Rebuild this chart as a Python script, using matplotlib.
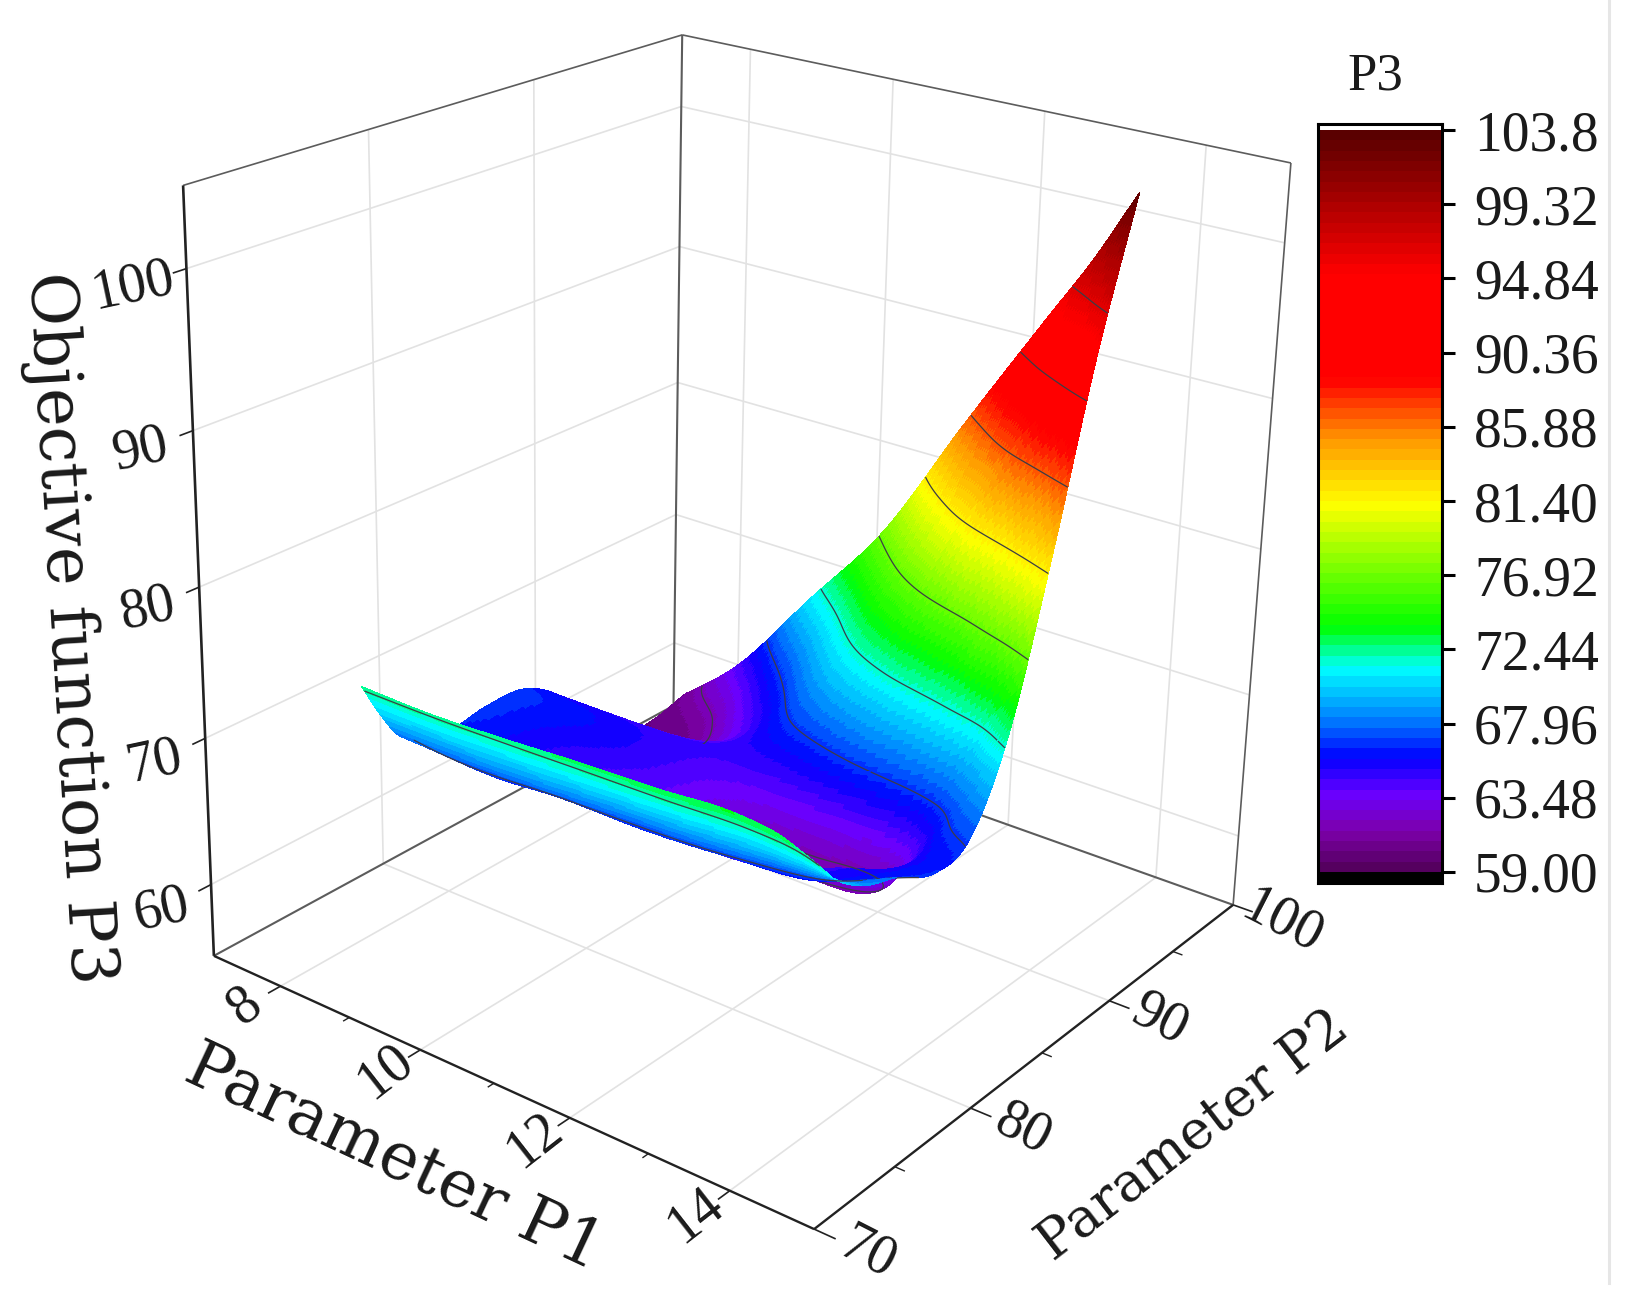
#!/usr/bin/env python3
import numpy as np
import matplotlib
matplotlib.use("Agg")
import matplotlib.pyplot as plt
from matplotlib.colors import LinearSegmentedColormap, Normalize
from matplotlib.lines import Line2D
from mpl_toolkits.mplot3d import proj3d

W, H = 1637, 1305

# surface values (rows = P1, columns = P2)
P1_VALUES = [8, 9, 10, 11, 12, 13, 13.5, 14]
P2_VALUES = [75, 76, 77, 78, 80, 82.5, 85, 87.5, 90, 92.5, 95]
P3_P1_080 = [72.4, 70.0, 68.0, 67.0, 66.4, 66.8, 66.6, 64.5, 60.5, 60.0, 60.0]
P3_P1_090 = [72.3, 70.0, 68.0, 66.6, 65.2, 65.0, 65.8, 64.6, 61.0, 61.5, 64.5]
P3_P1_100 = [72.5, 70.2, 68.2, 66.9, 65.3, 64.0, 64.5, 64.7, 64.0, 66.5, 71.0]
P3_P1_110 = [72.8, 70.5, 68.6, 67.0, 65.0, 63.0, 62.6, 65.2, 68.5, 72.5, 77.5]
P3_P1_120 = [73.0, 70.8, 68.9, 67.3, 65.3, 63.0, 61.7, 66.5, 72.5, 79.5, 86.3]
P3_P1_130 = [73.3, 71.2, 69.4, 68.0, 65.8, 65.0, 62.2, 68.0, 76.5, 87.0, 94.8]
P3_P1_135 = [73.0, 71.0, 69.5, 68.3, 66.8, 65.8, 65.8, 69.5, 79.5, 90.5, 99.0]
P3_P1_140 = [72.0, 70.5, 69.5, 68.8, 68.0, 66.6, 67.3, 72.8, 83.0, 94.5, 103.8]
CONTOUR_LEVELS = [62, 67, 72, 77, 82, 87, 92, 97]
# the sheet has a bite out of its far corner
BITE_P1 = 8.2
BITE_P2 = 89.5

# axes
P1_LIM = (7, 15)
P2_LIM = (70, 100)
P3_LIM = (55, 105)
P1_TICKS = [8, 10, 12, 14]
P1_MINOR = [9, 11, 13]
P2_TICKS = [70, 80, 90, 100]
P2_MINOR = [75, 85, 95]
P3_TICKS = [60, 70, 80, 90, 100]

# colour bar
CBAR_TICKS = [59.0, 63.48, 67.96, 72.44, 76.92, 81.40, 85.88, 90.36, 94.84, 99.32, 103.8]
CBAR_LABELS = ["59.00", "63.48", "67.96", "72.44", "76.92", "81.40", "85.88", "90.36", "94.84", "99.32", "103.8"]
CMAP_VALUES = [59.0, 61.2, 63.48, 65.7, 68.0, 71.18, 72.44, 73.68, 81.2, 85.2, 88.8, 95.3, 103.8]
CMAP_COLORS = ["#55005f", "#7d00aa", "#6900ff", "#0000ff", "#007dff", "#00ffff", "#00ff82",
               "#00ff00", "#ffff00", "#ff9600", "#ff0000", "#ff0000", "#5a0000"]

# where known points of the box sit in the picture (1568 wide view): P1, P2, P3, x, y
CALIB = [
    (7, 70, 55, 205, 915), (7, 70, 105, 177, 177),
    (7, 100, 55, 646, 677), (7, 100, 105, 652, 33),
    (15, 100, 55, 1182, 865), (15, 100, 105, 1237, 157),
    (15, 70, 55, 780, 1178),
    (8, 70, 55, 268, 944), (10, 70, 55, 403, 1005), (12, 70, 55, 545, 1071), (14, 70, 55, 699, 1141),
    (15, 80, 55, 930, 1061), (15, 90, 55, 1061, 959),
    (7, 70, 60, 203, 848), (7, 70, 80, 189, 563), (7, 70, 100, 179, 257),
]

SERIF = "Liberation Serif"
LABEL_FONT = "DejaVu Serif"
C_TEXT = "#1a1a1a"
C_GRID = "#e2e2e2"
C_FRAME = "#5c5c5c"
C_AXIS = "#222222"


def fit_projection(ax):
    """P1,P2,P3 -> 2D coordinates of the 3D axes, fitted on the CALIB points."""
    scale = W / 1568
    rows, rhs = [], []
    for p1, p2, p3, px, py in CALIB:
        x, y = ax.transData.inverted().transform((px * scale, H - py * scale))
        rows.append([p1, p2, p3, 1, 0, 0, 0, 0, -x * p1, -x * p2, -x * p3])
        rows.append([0, 0, 0, 0, p1, p2, p3, 1, -y * p1, -y * p2, -y * p3])
        rhs += [x, y]
    p = np.linalg.lstsq(np.array(rows), np.array(rhs), rcond=None)[0]
    # third row only serves the depth sorting: bigger = further away, and it has to stay < 0
    depth = [-1 / (P1_LIM[1] - P1_LIM[0]), 1 / (P2_LIM[1] - P2_LIM[0]), -0.4 / (P3_LIM[1] - P3_LIM[0]), 0]
    depth[3] = -3 - depth[0] * P1_LIM[0] - depth[1] * P2_LIM[0] - depth[2] * P3_LIM[0]
    return np.array([p[:4], p[4:8], depth, [p[8], p[9], p[10], 1.0]])


def hermite(xs, ys, xf):
    """Smooth drawing mesh through the table along axis 0, table values are kept."""
    xs = np.asarray(xs, float)
    d = np.gradient(ys, xs, axis=0)
    i = np.clip(np.searchsorted(xs, xf, side="right") - 1, 0, len(xs) - 2)
    h = xs[i + 1] - xs[i]
    t = (xf - xs[i]) / h
    t = t[:, None]
    h = h[:, None]
    return ((2 * t**3 - 3 * t**2 + 1) * ys[i] + (t**3 - 2 * t**2 + t) * h * d[i]
            + (-2 * t**3 + 3 * t**2) * ys[i + 1] + (t**3 - t**2) * h * d[i + 1])


fig = plt.figure(figsize=(W / 100, H / 100), dpi=100, facecolor="white")
# square panel bigger than the figure, so nothing gets clipped
ax = fig.add_axes([0, (H - W) / 2 / H, 1, W / H], projection="3d", computed_zorder=False)
ax.set_axis_off()
ax.patch.set_alpha(0)
ax.apply_aspect()
ax.set_xlim(*P1_LIM)
ax.set_ylim(*P2_LIM)
ax.set_zlim(*P3_LIM)
M = fit_projection(ax)
ax.get_proj = lambda: M
ax.M = M


def line3d(p1s, p2s, p3s, color, lw, z=0):
    ax.plot(p1s, p2s, p3s, color=color, lw=lw, zorder=z, solid_capstyle="butt")


def label3d(p1, p2, p3, s, rot, size):
    xp, yp, _ = proj3d.proj_transform(p1, p2, p3, M)
    dx, dy = ax.transData.transform((xp, yp))
    fig.text(dx / W, dy / H, s, rotation=rot, ha="center", va="center",
             family=SERIF, fontsize=size, color=C_TEXT)


p1a, p1b = P1_LIM
p2a, p2b = P2_LIM
p3a, p3b = P3_LIM

# --- grid on walls and floor ---
for v in P1_TICKS:
    line3d([v, v], [p2a, p2b], [p3a, p3a], C_GRID, 1.2)
    line3d([v, v], [p2b, p2b], [p3a, p3b], C_GRID, 1.2)
for v in P2_TICKS[1:-1]:
    line3d([p1a, p1b], [v, v], [p3a, p3a], C_GRID, 1.2)
    line3d([p1a, p1a], [v, v], [p3a, p3b], C_GRID, 1.2)
for v in P3_TICKS:
    line3d([p1a, p1a], [p2a, p2b], [v, v], C_GRID, 1.2)
    line3d([p1a, p1b], [p2b, p2b], [v, v], C_GRID, 1.2)

# --- box ---
line3d([p1a, p1a], [p2b, p2b], [p3a, p3b], C_FRAME, 1.5)
line3d([p1a, p1a], [p2a, p2b], [p3a, p3a], C_FRAME, 1.5)
line3d([p1a, p1b], [p2b, p2b], [p3a, p3a], C_FRAME, 1.5)
line3d([p1a, p1a], [p2a, p2b], [p3b, p3b], C_FRAME, 1.2)
line3d([p1a, p1b], [p2b, p2b], [p3b, p3b], C_FRAME, 1.2)
line3d([p1b, p1b], [p2b, p2b], [p3a, p3b], C_FRAME, 1.2)
line3d([p1a, p1a], [p2a, p2a], [p3a, p3b], C_AXIS, 1.9)
line3d([p1a, p1b], [p2a, p2a], [p3a, p3a], C_AXIS, 1.7)
line3d([p1b, p1b], [p2a, p2b], [p3a, p3a], C_AXIS, 1.7)

# --- ticks ---
for v in P1_TICKS:
    line3d([v, v], [p2a - 0.7, p2a], [p3a, p3a], C_AXIS, 1.2)
    label3d(v, p2a - 2.0, p3a, str(v), 38, 40)
for v in P1_MINOR:
    line3d([v, v], [p2a - 0.35, p2a], [p3a, p3a], C_AXIS, 1.0)
for v in P2_TICKS:
    line3d([p1b, p1b + 0.25], [v, v], [p3a, p3a], C_AXIS, 1.2)
    label3d(p1b + 0.62, v, p3a, str(v), -27, 40)
for v in P2_MINOR:
    line3d([p1b, p1b + 0.12], [v, v], [p3a, p3a], C_AXIS, 1.0)
for v in P3_TICKS:
    line3d([p1a, p1a], [p2a - 0.7, p2a], [v, v], C_AXIS, 1.2)
    label3d(p1a, p2a - 2.7, v, str(v), 12, 40)

# --- surface ---
p3_table = np.array([P3_P1_080, P3_P1_090, P3_P1_100, P3_P1_110, P3_P1_120, P3_P1_130, P3_P1_135, P3_P1_140])
p1_fine = np.linspace(P1_VALUES[0], P1_VALUES[-1], 140)
p2_fine = np.linspace(P2_VALUES[0], P2_VALUES[-1], 200)
z_fine = hermite(P1_VALUES, p3_table, p1_fine)
z_fine = hermite(P2_VALUES, z_fine.T, p2_fine).T
xx, yy = np.meshgrid(p1_fine, p2_fine, indexing="ij")
bite = (xx < BITE_P1) & (yy > BITE_P2)

cmap = LinearSegmentedColormap.from_list(
    "p3", [((v - CMAP_VALUES[0]) / (CMAP_VALUES[-1] - CMAP_VALUES[0]), c)
           for v, c in zip(CMAP_VALUES, CMAP_COLORS)], N=72)
norm = Normalize(CMAP_VALUES[0], CMAP_VALUES[-1])
face = cmap(norm(z_fine))
face[bite, 3] = 0
z_lines = np.ma.masked_where(bite, z_fine)

# the ridge and the lip at low P2 fold over what is behind them, so paint far to near
split_ridge = np.searchsorted(p2_fine, 87.5)
split_lip = np.searchsorted(p2_fine, 80)
parts = (slice(split_ridge, None), slice(split_lip, split_ridge + 1), slice(0, split_lip + 1))
for n, part in enumerate(parts):
    z0 = 2 + 2 * n
    ax.plot_surface(xx[:, part], yy[:, part], z_fine[:, part], facecolors=face[:, part], rstride=1, cstride=1,
                    shade=False, linewidth=0, edgecolor="none", antialiased=False, zorder=z0)
    ax.contour(xx[:, part], yy[:, part], z_lines[:, part], levels=CONTOUR_LEVELS, colors="#3c3c46",
               linewidths=0.9, zorder=z0 + 1)

ax.set_xlim(*P1_LIM)
ax.set_ylim(*P2_LIM)
ax.set_zlim(*P3_LIM)

# --- axis titles ---
s = W / 1568
fig.text(378 * s / W, 1 - 1110 * s / H, "Parameter P1", rotation=-25, ha="center", va="center",
         family=LABEL_FONT, fontsize=47, color=C_TEXT)
fig.text(1143 * s / W, 1 - 1088 * s / H, "Parameter P2", rotation=37.5, ha="center", va="center",
         family=LABEL_FONT, fontsize=39, color=C_TEXT)
fig.text(65 * s / W, 1 - 602 * s / H, "Objective function P3", rotation=-86.5, ha="center", va="center",
         family=LABEL_FONT, fontsize=47, color=C_TEXT)

# --- colour bar ---
px_per_unit = (872 - 130) / (CBAR_TICKS[-1] - CBAR_TICKS[0])
cax = fig.add_axes([1318 / W, 1 - 883 / H, (1442 - 1318) / W, (883 - 124) / H])
cax.set_ylim(CBAR_TICKS[0] - 11 / px_per_unit, CBAR_TICKS[-1] + 6 / px_per_unit)
cax.set_xlim(0, 1)
levels = np.linspace(CBAR_TICKS[0], CBAR_TICKS[-1], 73)
cax.pcolormesh([0, 1], levels, ((levels[:-1] + levels[1:]) / 2)[:, None], cmap=cmap, norm=norm)
cax.axhspan(cax.get_ylim()[0], CBAR_TICKS[0], color="black", lw=0)
cax.set_xticks([])
cax.set_yticks(CBAR_TICKS)
cax.set_yticklabels(CBAR_LABELS, family=SERIF, fontsize=40, color=C_TEXT)
cax.yaxis.tick_right()
cax.tick_params(axis="y", length=9, width=2.2, pad=14, color="black")
for sp in cax.spines.values():
    sp.set_linewidth(2.2)
    sp.set_color("black")
fig.text(1375 / W, 1 - 77 / H, "P3", ha="center", va="center", family=SERIF, fontsize=38, color=C_TEXT)

# pale rule along the right of the picture
fig.add_artist(Line2D([1609 / W, 1609 / W], [1 - 1283 / H, 1], color="#e6e6e6", lw=2.2))

fig.savefig("out.png", dpi=100, facecolor="white")
